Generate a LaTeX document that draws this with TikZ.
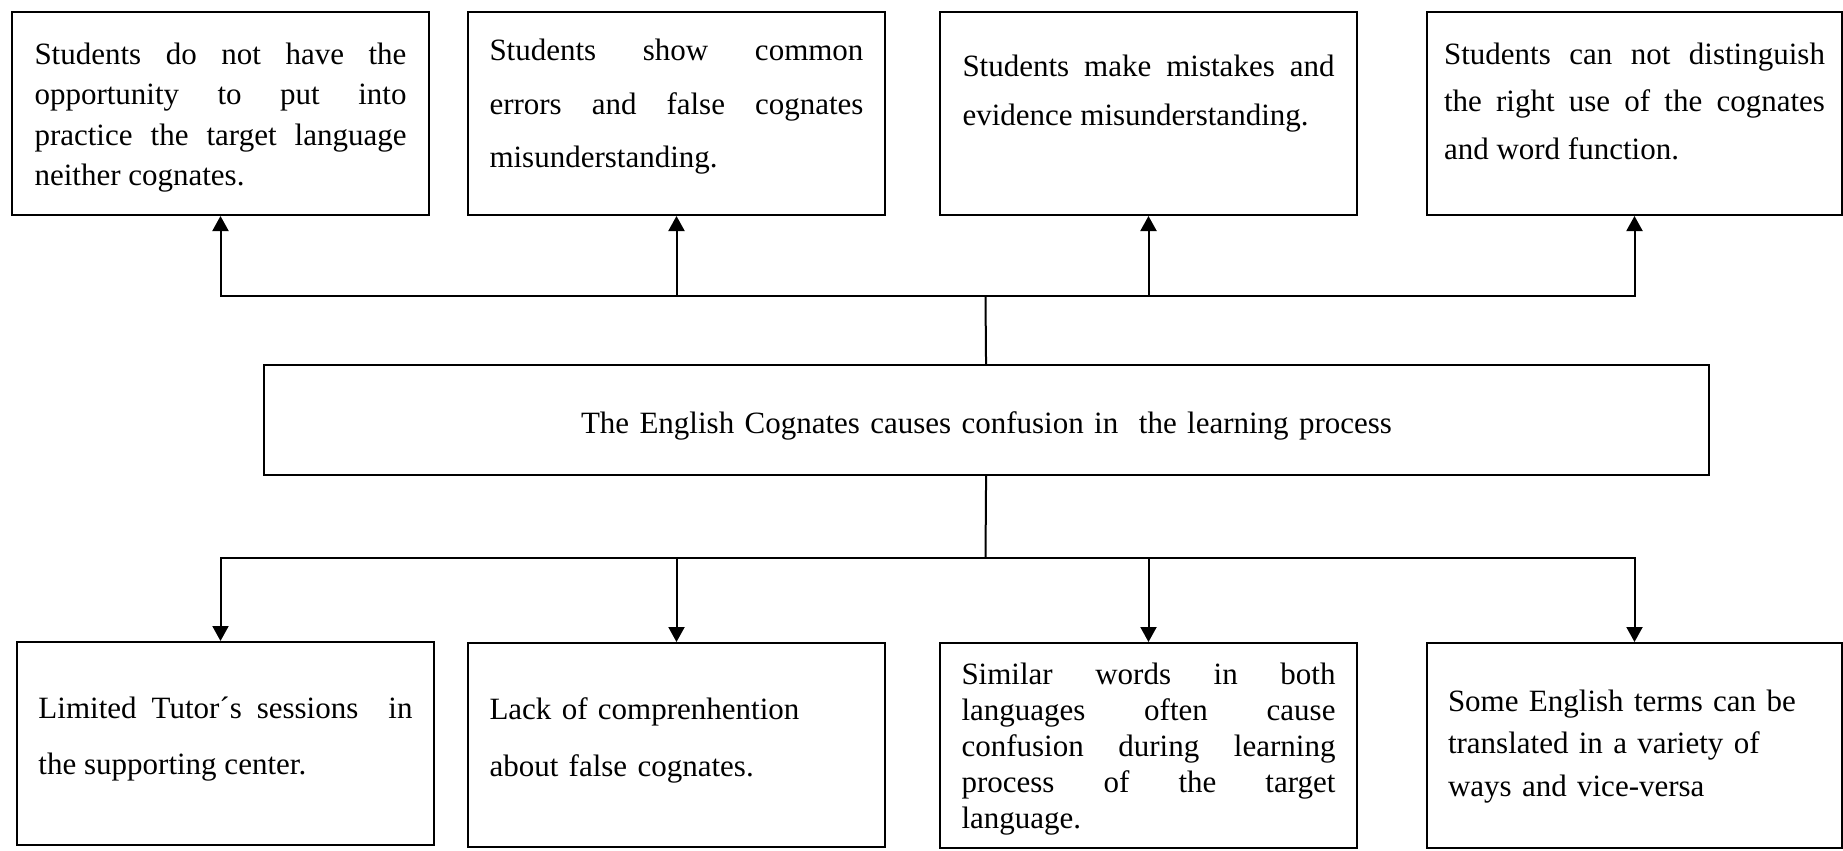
\documentclass[tikz,border=0pt]{standalone}
\usepackage{fontspec}
\setmainfont{Liberation Serif}
\usetikzlibrary{arrows.meta}
\tolerance=10000
\hbadness=10000
\hyphenpenalty=10000

\begin{document}
\begin{tikzpicture}[x=0.5pt, y=-0.5pt,
  box/.style={draw, line width=1pt, inner ysep=0pt, anchor=north west, align=justify},
  lead/.style={font=\fontsize{15.5pt}{#1}\selectfont},
  arr/.style={line width=1pt, -{Triangle[length=7.5pt,width=8pt]}}]

  \useasboundingbox (0,0) rectangle (1843,851);

  % effects (top row)
  \node[box, lead=20.3pt, text width=186pt, inner xsep=11.25pt,
    text height=26pt, text depth=75.5pt] (e1) at (11,11)
    {Students do not have the\linebreak opportunity to put into\linebreak practice the target language\linebreak neither cognates.};
  \node[box, lead=26.75pt, text width=187pt, inner xsep=10.75pt,
    text height=24.5pt, text depth=77pt] (e2) at (467,11)
    {Students show common\linebreak errors and false cognates\linebreak misunderstanding.};
  \node[box, lead=24.5pt, text width=186pt, inner xsep=11.25pt,
    text height=32pt, text depth=69.5pt] (e3) at (939,11)
    {Students make mistakes and\linebreak evidence misunderstanding.};
  \node[box, lead=23.75pt, text width=190.5pt, inner xsep=8.5pt,
    text height=26pt, text depth=75.5pt] (e4) at (1426,11)
    {Students can not distinguish\linebreak the right use of the cognates\linebreak and word function.};

  % central problem
  \node[box, align=center, lead=20pt, text width=700pt, inner xsep=11.25pt,
    text height=34pt, text depth=21pt] (core) at (263,364)
    {The English Cognates causes confusion in~ the learning process};

  % causes (bottom row)
  \node[box, lead=28pt, text width=187pt, inner xsep=10.75pt,
    text height=38pt, text depth=63.5pt] (c1) at (16,641)
    {Limited Tutor´s sessions~ in\linebreak the supporting center.};
  \node[box, align=left, lead=28.5pt, text width=187pt, inner xsep=10.75pt,
    text height=38pt, text depth=64pt] (c2) at (467,642)
    {Lack of comprenhention\\ about false cognates.};
  \node[box, lead=18pt, text width=187pt, inner xsep=10.75pt,
    text height=20.5pt, text depth=82pt] (c3) at (939,642)
    {Similar words in both\linebreak languages often cause\linebreak confusion during learning\linebreak process of the target\linebreak language.};
  \node[box, align=left, lead=21.25pt, text width=186.5pt, inner xsep=10.5pt,
    text height=34pt, text depth=68.5pt] (c4) at (1426,642)
    {Some English terms can be\\ translated in a variety of\\ ways and vice-versa};

  % junctions
  \coordinate (tj) at (985.5,296);
  \coordinate (bj) at (985.5,558);

  \draw[line width=1pt] (core) -- (tj);
  \draw[line width=1pt] (core) -- (bj);
  \foreach \i in {1,...,4}{
    \draw[arr] (tj) -| (e\i.south);
    \draw[arr] (bj) -| (c\i.north -| e\i.south);
  }
\end{tikzpicture}
\end{document}
